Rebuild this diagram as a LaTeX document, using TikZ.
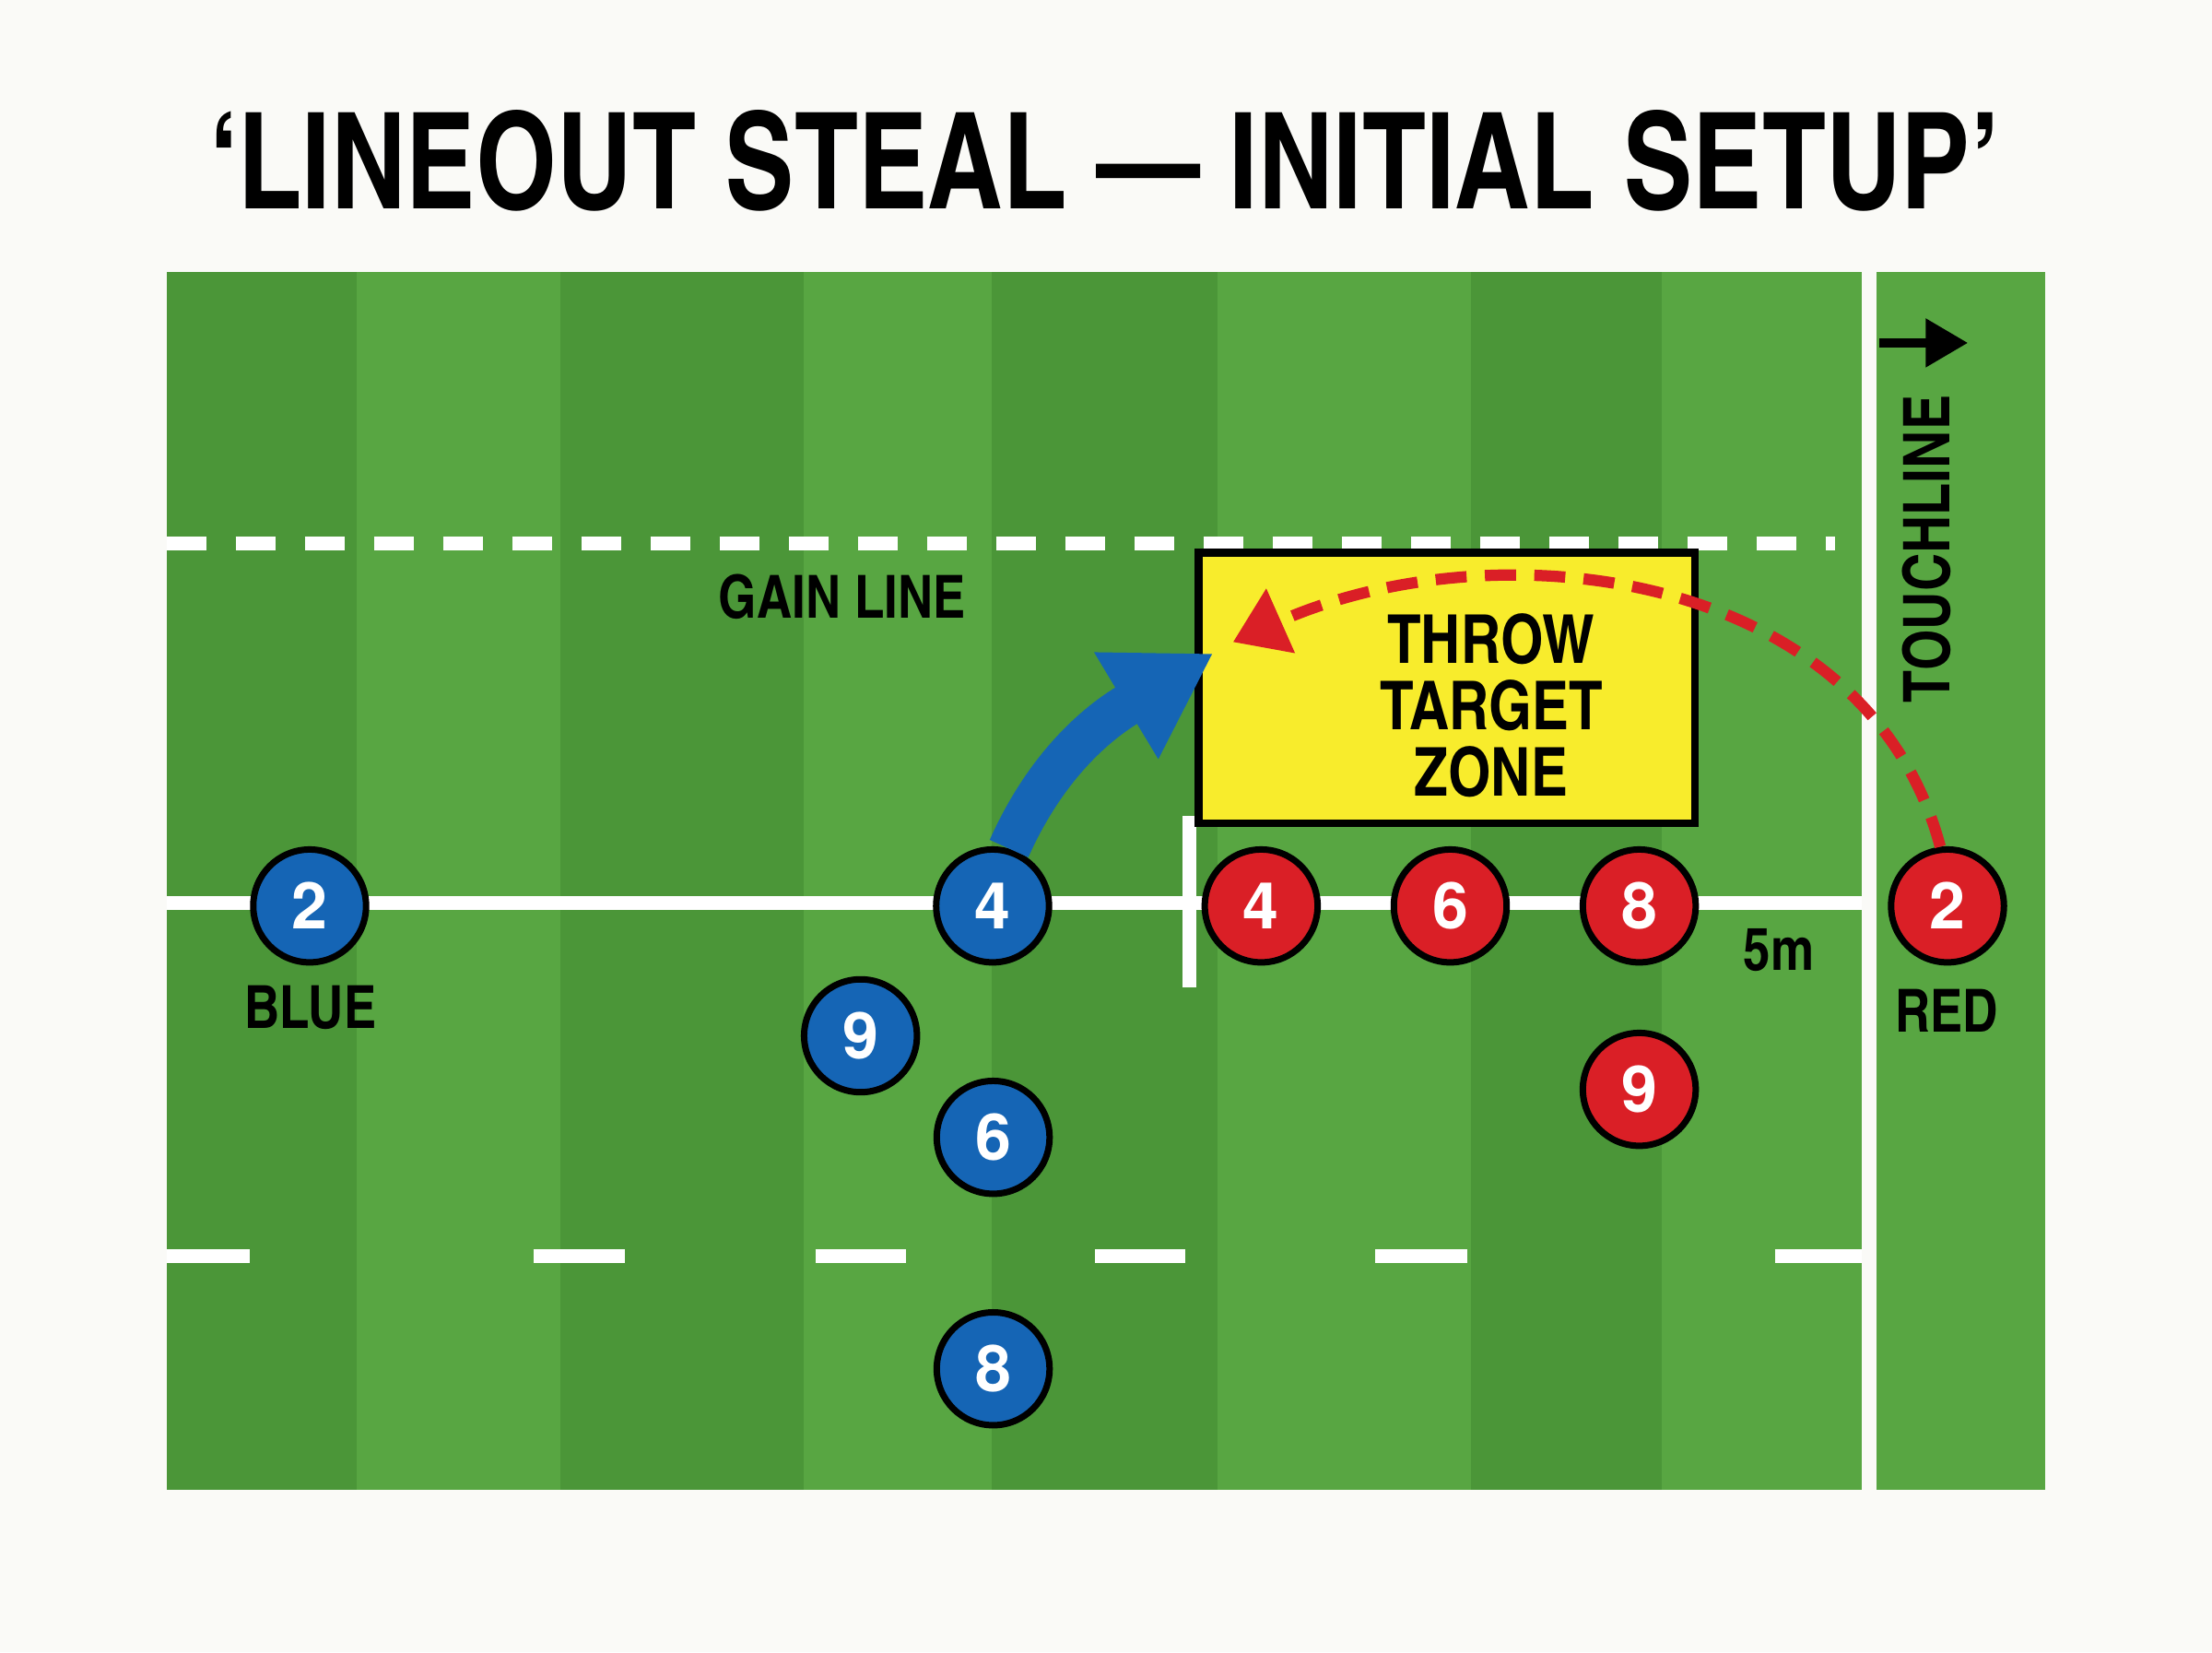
\documentclass[tikz,border=0pt]{standalone}
\usepackage{fontspec}
\usetikzlibrary{arrows.meta}
\newfontfamily\condfont{texgyreheroscn-bold.otf}
\newfontfamily\numfont{texgyreheros-bold.otf}

\begin{document}
\begin{tikzpicture}[x=1cm, y=1cm,
    every node/.style={font=\condfont},
    player/.style={circle, draw=black, line width=1.3pt, minimum size=0.8cm,
      inner sep=0pt, text=white, font=\numfont\fontsize{13}{13}\selectfont},
    blueman/.style={player, fill=teamblue},
    redman/.style={player, fill=teamred},
    tag/.style={font=\condfont\fontsize{12}{12}\selectfont},
    marking/.style={white, line width=0.1cm},
  ]
  \definecolor{bgwhite}{RGB}{250,250,247}
  \definecolor{fieldlight}{RGB}{88,166,66}
  \definecolor{fielddark}{RGB}{75,150,56}
  \definecolor{teamblue}{RGB}{21,101,181}
  \definecolor{teamred}{RGB}{218,31,38}
  \definecolor{zoneyellow}{RGB}{248,236,44}

  \fill[bgwhite] (0,0) rectangle (15.68,-11.708);
  \useasboundingbox (0,0) rectangle (15.68,-11.708);

  % pitch
  \fill[fieldlight] (1.18,-1.93) rectangle (13.20,-10.56);
  \foreach \a/\b in {1.18/2.53, 3.97/5.70, 7.03/8.63, 10.43/11.78}
    \fill[fielddark] (\a,-1.93) rectangle (\b,-10.56);
  \fill[fieldlight] (13.30,-1.93) rectangle (14.50,-10.56);

  % lines
  \draw[marking, dash pattern=on 0.285cm off 0.205cm] (1.18,-3.85) -- (13.01,-3.85);
  \draw[marking] (1.18,-6.40) -- (13.20,-6.40);
  \foreach \a/\b in {1.18/1.77, 3.78/4.43, 5.78/6.42, 7.76/8.40, 9.75/10.40, 12.58/13.20}
    \draw[marking] (\a,-8.90) -- (\b,-8.90);
  \draw[marking] (8.43,-5.78) -- (8.43,-7.00);

  \node[draw=black, line width=1.6pt, fill=zoneyellow, minimum width=3.52cm,
    minimum height=1.92cm] (zone) at (10.255,-4.875) {};
  \node[align=center, font=\condfont\fontsize{13.6}{13.4}\selectfont] (zonetext)
    at (10.57,-5.00) {THROW\\TARGET\\ZONE};

  \node[xscale=0.95] (title) at (7.83,-1.14) {\fontsize{27}{27}\selectfont ‘LINEOUT STEAL — INITIAL SETUP’};
  \node[tag] (gain) at (5.97,-4.23) {GAIN LINE};
  \node[tag, rotate=90, font=\condfont\fontsize{13}{13}\selectfont] (touch) at (13.66,-3.89) {TOUCHLINE};
  \node[tag] (bluetag) at (2.20,-7.14) {BLUE};
  \node[tag] (redtag) at (13.80,-7.16) {RED};
  \node[tag] (fivem) at (12.61,-6.73) {5m};

  % players
  \node[blueman] (b2) at (2.195,-6.42) {2};
  \node[blueman] (b4) at (7.036,-6.42) {4};
  \node[blueman] (b9) at (6.10,-7.34) {9};
  \node[blueman] (b6) at (7.04,-8.06) {6};
  \node[blueman] (b8) at (7.04,-9.70) {8};
  \node[redman] (r4) at (8.94,-6.42) {4};
  \node[redman] (r6) at (10.28,-6.42) {6};
  \node[redman] (r8) at (11.62,-6.42) {8};
  \node[redman] (r2) at (13.805,-6.42) {2};
  \node[redman] (r9) at (11.62,-7.72) {9};

  % arrows
  \coordinate (tipB) at (8.60,-4.63);
  \coordinate (tipR) at (8.74,-4.55);
  \coordinate (tA) at (13.32,-2.43);
  \coordinate (tB) at (13.95,-2.43);
  \draw[teamblue, line width=0.3cm, -{Triangle[length=0.72cm, width=0.83cm]}]
    (b4.74) to[out=66, in=211] (tipB);
  \draw[teamred, line width=0.08cm, dash pattern=on 0.22cm off 0.13cm,
    -{Triangle[length=0.37cm, width=0.48cm]}] (r2.97) to[out=105, in=24] (tipR);
  \draw[black, line width=0.065cm, -{Triangle[length=0.3cm, width=0.33cm]}] (tA) -- (tB);
\end{tikzpicture}
\end{document}
